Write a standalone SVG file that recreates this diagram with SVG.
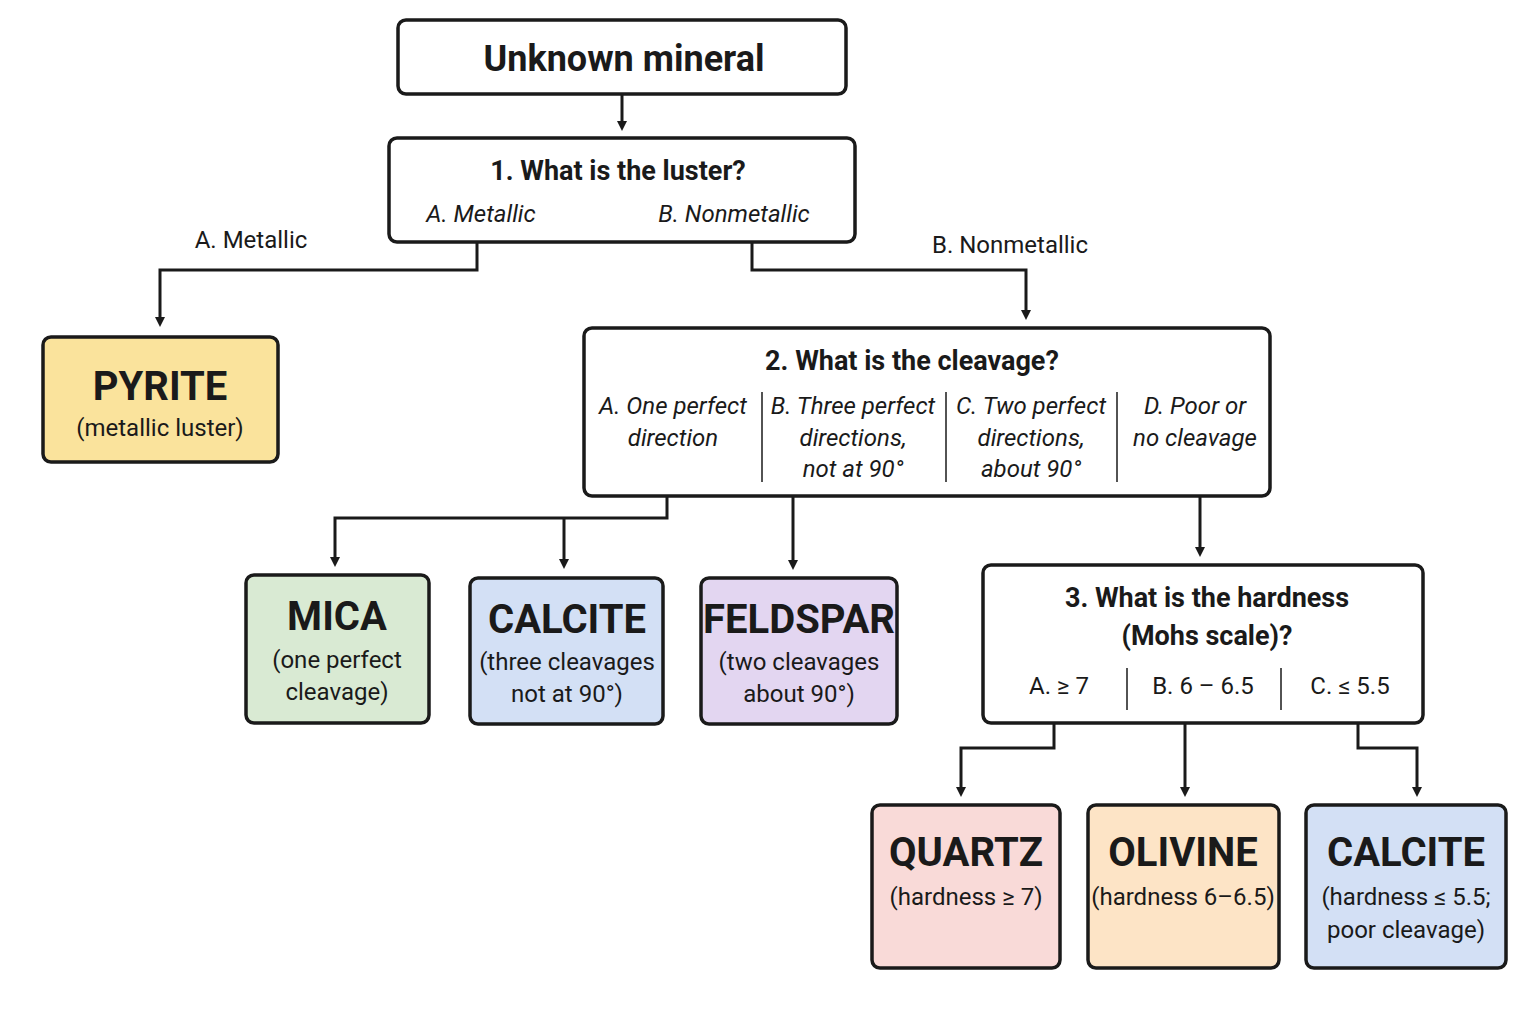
<svg xmlns="http://www.w3.org/2000/svg" width="1536" height="1024" viewBox="0 0 1536 1024">
<defs>
<marker id="ah" markerWidth="10" markerHeight="10" refX="5" refY="5" orient="auto" markerUnits="userSpaceOnUse" viewBox="0 0 10 10"><path d="M0,0 L10,5 L0,10 Z" fill="#1a1a1a"/></marker>
<style>
.b{stroke:#1a1a1a;stroke-width:3.5;fill:#fff}
.c{stroke:#1a1a1a;stroke-width:3;fill:none}
.d{stroke:#1a1a1a;stroke-width:1.5}
text{font-family:Roboto,"Liberation Sans",sans-serif;fill:#1a1a1a;text-anchor:middle}
.t{font-weight:bold;font-size:27px}
.h{font-weight:bold;font-size:40px}
.s{font-size:24px}
.i{font-style:italic;font-size:24px}
.l{font-size:24px}
</style>
</defs>
<rect width="1536" height="1024" fill="#fff"/>
<g id="connectors">
<path class="c" d="M622,94 V126" marker-end="url(#ah)"/>
<path class="c" d="M477,242 V270 H160 V322" marker-end="url(#ah)"/>
<path class="c" d="M752,242 V270 H1026 V315" marker-end="url(#ah)"/>
<path class="c" d="M667,496 V518 H335 V562" marker-end="url(#ah)"/>
<path class="c" d="M564,518 V564" marker-end="url(#ah)"/>
<path class="c" d="M793,496 V565" marker-end="url(#ah)"/>
<path class="c" d="M1200,496 V552" marker-end="url(#ah)"/>
<path class="c" d="M1054,723 V748 H961 V792" marker-end="url(#ah)"/>
<path class="c" d="M1185,723 V792" marker-end="url(#ah)"/>
<path class="c" d="M1358,723 V748 H1417 V792" marker-end="url(#ah)"/>
<text class="l" x="251" y="248">A. Metallic</text>
<text class="l" x="1010" y="253">B. Nonmetallic</text>
</g>
<g id="start"><rect class="b" x="398" y="20" width="448" height="74" rx="8"/><text x="624" y="71" style="font-weight:bold;font-size:36px">Unknown mineral</text></g>
<g id="q1"><rect class="b" x="389" y="138" width="466" height="104" rx="8"/>
<text class="t" x="618" y="180">1.  What is the luster?</text>
<text class="i" x="481" y="222">A. Metallic</text><text class="i" x="734" y="222">B. Nonmetallic</text></g>
<g id="pyrite"><rect class="b" x="43" y="337" width="235" height="125" rx="8" fill="#fae39c" style="fill:#fae39c"/>
<text class="h" x="160" y="400">PYRITE</text><text class="s" x="160" y="436">(metallic luster)</text></g>
<g id="q2"><rect class="b" x="584" y="328" width="686" height="168" rx="8"/>
<text class="t" x="912" y="370">2.  What is the cleavage?</text>
<line class="d" x1="762" y1="392" x2="762" y2="482"/><line class="d" x1="946" y1="392" x2="946" y2="482"/><line class="d" x1="1117" y1="392" x2="1117" y2="482"/>
<text class="i" x="673" y="414">A. One perfect</text><text class="i" x="673" y="446">direction</text>
<text class="i" x="853" y="414">B. Three perfect</text><text class="i" x="853" y="446">directions,</text><text class="i" x="853" y="477">not at 90°</text>
<text class="i" x="1031" y="414">C. Two perfect</text><text class="i" x="1031" y="446">directions,</text><text class="i" x="1031" y="477">about 90°</text>
<text class="i" x="1195" y="414">D. Poor or</text><text class="i" x="1195" y="446">no cleavage</text></g>
<g id="mica"><rect class="b" x="246" y="575" width="183" height="148" rx="8" style="fill:#d9ead3"/>
<text class="h" x="337" y="630">MICA</text><text class="s" x="337" y="668">(one perfect</text><text class="s" x="337" y="700">cleavage)</text></g>
<g id="calcite1"><rect class="b" x="470" y="578" width="193" height="146" rx="8" style="fill:#d3e0f5"/>
<text class="h" x="567" y="633">CALCITE</text><text class="s" x="567" y="670">(three cleavages</text><text class="s" x="567" y="702">not at 90°)</text></g>
<g id="feldspar"><rect class="b" x="701" y="578" width="196" height="146" rx="8" style="fill:#e3d6f1"/>
<text class="h" x="799" y="633">FELDSPAR</text><text class="s" x="799" y="670">(two cleavages</text><text class="s" x="799" y="702">about 90°)</text></g>
<g id="q3"><rect class="b" x="983" y="565" width="440" height="158" rx="8"/>
<text class="t" x="1207" y="607">3.  What is the hardness</text><text class="t" x="1207" y="645">(Mohs scale)?</text>
<line class="d" x1="1127" y1="668" x2="1127" y2="710"/><line class="d" x1="1281" y1="668" x2="1281" y2="710"/>
<text class="s" x="1059" y="694">A. ≥ 7</text><text class="s" x="1203" y="694">B. 6 – 6.5</text><text class="s" x="1350" y="694">C. ≤ 5.5</text></g>
<g id="quartz"><rect class="b" x="872" y="805" width="188" height="163" rx="8" style="fill:#f9dad8"/>
<text class="h" x="966" y="866">QUARTZ</text><text class="s" x="966" y="905">(hardness ≥ 7)</text></g>
<g id="olivine"><rect class="b" x="1088" y="805" width="191" height="163" rx="8" style="fill:#fde4c6"/>
<text class="h" x="1183" y="866">OLIVINE</text><text class="s" x="1183" y="905">(hardness 6–6.5)</text></g>
<g id="calcite2"><rect class="b" x="1306" y="805" width="200" height="163" rx="8" style="fill:#d3e0f5"/>
<text class="h" x="1406" y="866">CALCITE</text><text class="s" x="1406" y="905">(hardness ≤ 5.5;</text><text class="s" x="1406" y="938">poor cleavage)</text></g>
</svg>
